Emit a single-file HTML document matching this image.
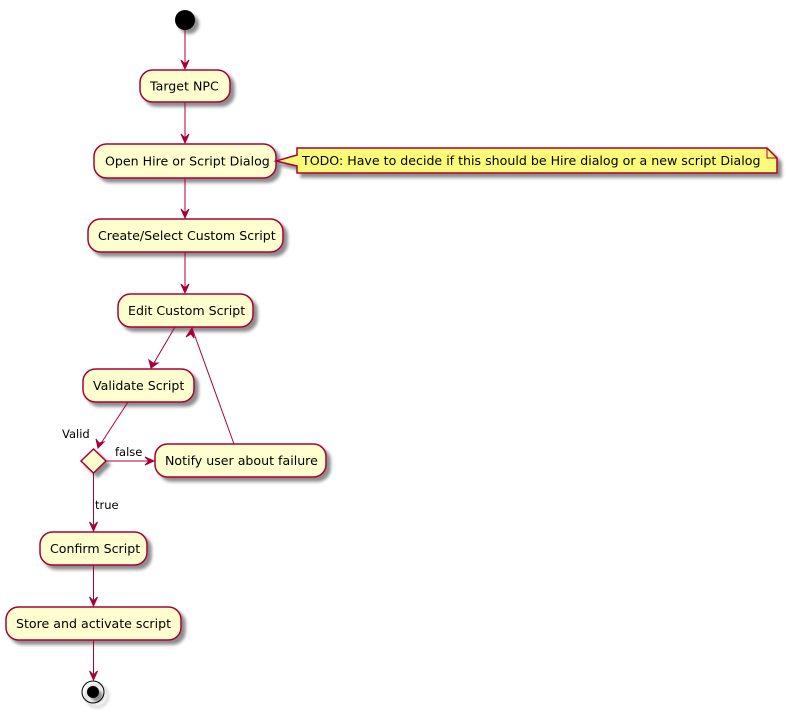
<!DOCTYPE html>
<html><head><meta charset="utf-8"><style>
html,body{margin:0;padding:0;background:#fff;}
svg{display:block;}
text{font-family:"DejaVu Sans","Liberation Sans",sans-serif;font-size:12.6px;fill:#000;}
</style></head><body>
<svg width="787" height="712" viewBox="0 0 787 712" xmlns="http://www.w3.org/2000/svg">
<defs>
<filter id="sh" x="-10%" y="-20%" width="130%" height="160%">
<feGaussianBlur in="SourceAlpha" stdDeviation="1.7"/>
<feOffset dx="4" dy="4" result="b"/>
<feComponentTransfer><feFuncA type="linear" slope="0.45"/></feComponentTransfer>
<feMerge><feMergeNode/><feMergeNode in="SourceGraphic"/></feMerge>
</filter>
</defs>
<g stroke="#A80036" stroke-width="1.5" fill="#FEFECE" filter="url(#sh)">
<circle cx="185" cy="20" r="10" fill="#000" stroke="none"/>
<rect x="140" y="70" width="90" height="32" rx="12.5"/>
<rect x="94" y="144" width="182" height="34" rx="12.5"/>
<rect x="88" y="219" width="195" height="33" rx="12.5"/>
<rect x="118" y="294" width="135" height="33" rx="12.5"/>
<rect x="83" y="369" width="111" height="33" rx="12.5"/>
<polygon points="93.5,449 106,461 93.5,473 81,461"/>
<rect x="155" y="444" width="171" height="33" rx="12.5"/>
<rect x="40" y="532" width="107" height="33" rx="12.5"/>
<rect x="6" y="607" width="175" height="33" rx="12.5"/>
<path d="M297,148 L767,148 L777,158 L777,173 L297,173 L297,166 L276,161 L297,155 Z" fill="#FBFB77"/>
<circle cx="93" cy="692" r="11" fill="none" stroke="#000" stroke-width="1"/>
<circle cx="93" cy="692" r="6" fill="#000" stroke="none"/>
</g>
<path d="M767,148 L767,158 L777,158" fill="none" stroke="#A80036" stroke-width="1"/>
<g stroke="#A80036" stroke-width="1" fill="none">
<line x1="185" y1="30" x2="185" y2="69"/>
<line x1="185" y1="102" x2="185" y2="143"/>
<line x1="185" y1="178" x2="185" y2="218"/>
<line x1="185" y1="252" x2="185" y2="293"/>
<line x1="175" y1="327" x2="151" y2="368"/>
<line x1="128" y1="402" x2="98" y2="448"/>
<line x1="106" y1="461" x2="154" y2="461"/>
<line x1="234" y1="444" x2="192" y2="328"/>
<line x1="93.5" y1="473" x2="93.5" y2="531"/>
<line x1="93.5" y1="565" x2="93.5" y2="606"/>
<line x1="93.5" y1="640" x2="93.5" y2="680"/>
</g>
<g fill="#A80036" stroke="#A80036" stroke-width="1">
<polygon points="181,60 185,69 189,60 185,64"/>
<polygon points="181,134 185,143 189,134 185,138"/>
<polygon points="181,209 185,218 189,209 185,213"/>
<polygon points="181,284 185,293 189,284 185,288"/>
<polygon points="149,360 151,368 158,363 153,363"/>
<polygon points="96,439 98,448 104,442 99,443"/>
<polygon points="145,457 154,461 145,465 149,461"/>
<polygon points="186,337 192,328 194,338 191,334"/>
<polygon points="89.5,522 93.5,531 97.5,522 93.5,526"/>
<polygon points="89.5,597 93.5,606 97.5,597 93.5,601"/>
<polygon points="89.5,671 93.5,680 97.5,671 93.5,675"/>
</g>
<text x="150" y="90.5">Target NPC</text>
<text x="105" y="165.5">Open Hire or Script Dialog</text>
<text x="98" y="240">Create/Select Custom Script</text>
<text x="128" y="315">Edit Custom Script</text>
<text x="93" y="390">Validate Script</text>
<text x="165" y="465">Notify user about failure</text>
<text x="50" y="553">Confirm Script</text>
<text x="16" y="628">Store and activate script</text>
<text x="302" y="165">TODO: Have to decide if this should be Hire dialog or a new script Dialog</text>
<text x="62" y="438" style="font-size:11.5px">Valid</text>
<text x="115" y="456" style="font-size:11.5px">false</text>
<text x="95" y="509" style="font-size:11.5px">true</text>
</svg>
</body></html>
